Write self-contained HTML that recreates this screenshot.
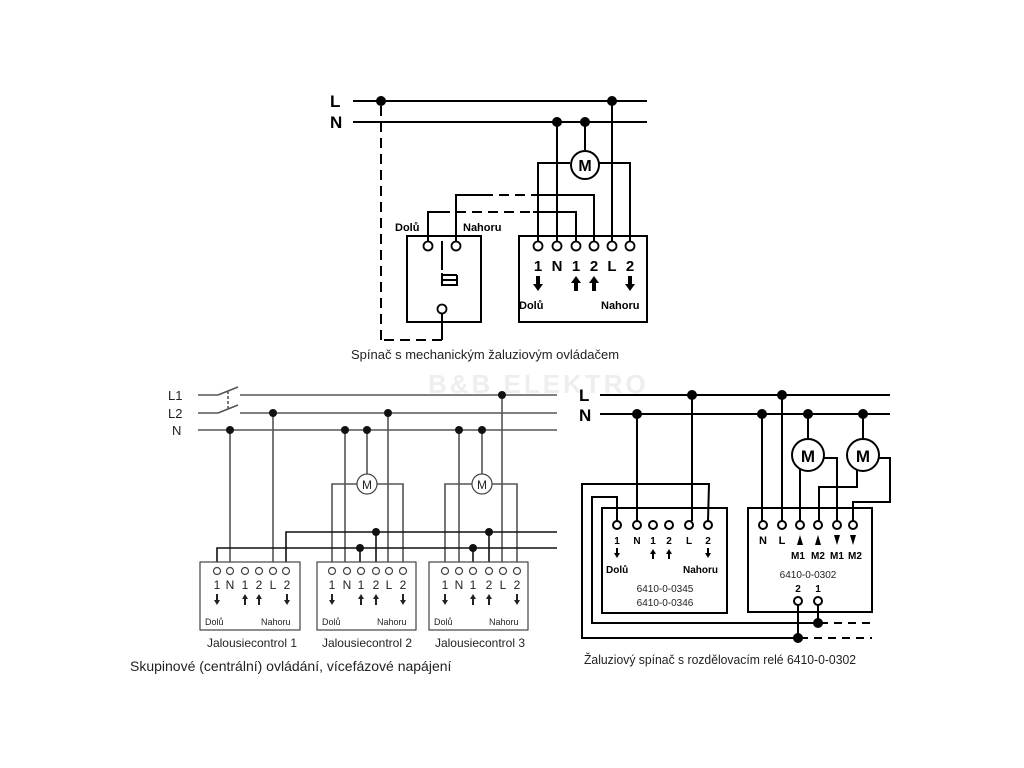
<!DOCTYPE html>
<html><head><meta charset="utf-8"><style>
html,body{margin:0;padding:0;background:#fff;}
svg{display:block;}
text{font-family:"Liberation Sans",sans-serif;}
</style></head><body>
<svg width="1024" height="768" viewBox="0 0 1024 768" xmlns="http://www.w3.org/2000/svg">
<rect width="1024" height="768" fill="#fff"/>
<!-- watermark -->
<text x="428" y="393" font-size="26" fill="#eee" font-weight="bold" letter-spacing="3">B&amp;B ELEKTRO</text>

<!-- ===== TOP DIAGRAM ===== -->
<g stroke="#000" stroke-width="2" fill="none">
<line x1="353" y1="101" x2="647" y2="101"/>
<line x1="353" y1="122" x2="647" y2="122"/>
<!-- motor -->
<line x1="585" y1="122" x2="585" y2="150"/>
<polyline points="538,242 538,163 570,163"/>
<polyline points="599,163 630,163 630,242"/>
<line x1="557" y1="122" x2="557" y2="242"/>
<line x1="612" y1="101" x2="612" y2="242"/>
<polyline points="456,242 456,195 483,195"/>
<line x1="483" y1="195" x2="540" y2="195" stroke-dasharray="10,6"/>
<polyline points="540,195 594,195 594,242"/>
<polyline points="428,242 428,212 440,212"/>
<line x1="440" y1="212" x2="533" y2="212" stroke-dasharray="10,6"/>
<polyline points="533,212 576,212 576,242"/>
<!-- boxes -->
<rect x="519" y="236" width="128" height="86"/>
<rect x="407" y="236" width="74" height="86"/>
<!-- switch -->
<line x1="442" y1="241" x2="442" y2="270"/>
<path d="M442 273 V286 M442 275 H457 M442 280 H457 M442 285 H457 M457 275 V286"/>
<line x1="442" y1="313" x2="442" y2="340"/>
<line x1="442" y1="340" x2="381" y2="340" stroke-dasharray="10,6"/>
<line x1="381" y1="340" x2="381" y2="101" stroke-dasharray="10,6"/>
</g>
<circle cx="585" cy="165" r="14" fill="#fff" stroke="#000" stroke-width="2"/>
<text x="585" y="171" font-size="16" font-weight="bold" text-anchor="middle">M</text>
<g fill="#000">
<circle cx="381" cy="101" r="5"/><circle cx="612" cy="101" r="5"/>
<circle cx="557" cy="122" r="5"/><circle cx="585" cy="122" r="5"/>
</g>
<g fill="#fff" stroke="#000" stroke-width="1.8">
<circle cx="538" cy="246" r="4.5"/><circle cx="557" cy="246" r="4.5"/><circle cx="576" cy="246" r="4.5"/>
<circle cx="594" cy="246" r="4.5"/><circle cx="612" cy="246" r="4.5"/><circle cx="630" cy="246" r="4.5"/>
<circle cx="428" cy="246" r="4.5"/><circle cx="456" cy="246" r="4.5"/><circle cx="442" cy="309" r="4.5"/>
</g>
<g font-weight="bold" fill="#000">
<text x="330" y="107" font-size="17">L</text>
<text x="330" y="128" font-size="17">N</text>
<g font-size="15" text-anchor="middle">
<text x="538" y="271">1</text><text x="557" y="271">N</text><text x="576" y="271">1</text>
<text x="594" y="271">2</text><text x="612" y="271">L</text><text x="630" y="271">2</text>
</g>
<text x="519" y="309" font-size="11">Dolů</text>
<text x="601" y="309" font-size="11">Nahoru</text>
<text x="395" y="231" font-size="11">Dolů</text>
<text x="463" y="231" font-size="11">Nahoru</text>
</g>
<g fill="#000">
<path d="M536 276 h4 v8 h3 l-5 7 l-5 -7 h3z"/>
<path d="M574 291 h4 v-8 h3 l-5 -7 l-5 7 h3z"/>
<path d="M592 291 h4 v-8 h3 l-5 -7 l-5 7 h3z"/>
<path d="M628 276 h4 v8 h3 l-5 7 l-5 -7 h3z"/>
</g>
<text x="351" y="359" font-size="13" fill="#222">Spínač s mechanickým žaluziovým ovládačem</text>

<!-- ===== BOTTOM LEFT ===== -->
<g stroke="#555" stroke-width="1.6" fill="none">
<line x1="198" y1="395" x2="218" y2="395"/>
<line x1="240" y1="395" x2="557" y2="395"/>
<line x1="198" y1="413" x2="218" y2="413"/>
<line x1="240" y1="413" x2="557" y2="413"/>
<line x1="198" y1="430" x2="557" y2="430"/>
<line x1="218" y1="395" x2="238" y2="387"/>
<line x1="218" y1="413" x2="238" y2="405"/>
<line x1="228" y1="391" x2="228" y2="409" stroke-dasharray="3,2"/>
<line x1="230" y1="430" x2="230" y2="567"/>
<line x1="273" y1="413" x2="273" y2="567"/>
<line x1="345" y1="430" x2="345" y2="567"/>
<line x1="367" y1="430" x2="367" y2="474"/>
<line x1="388" y1="413" x2="388" y2="567"/>
<polyline points="332,567 332,484 357,484"/>
<polyline points="377,484 403,484 403,567"/>
<line x1="459" y1="430" x2="459" y2="567"/>
<line x1="482" y1="430" x2="482" y2="474"/>
<line x1="502" y1="395" x2="502" y2="567"/>
<polyline points="445,567 445,484 472,484"/>
<polyline points="492,484 517,484 517,567"/>
</g>
<g stroke="#111" stroke-width="1.6" fill="none">
<polyline points="286,567 286,532 557,532"/>
<polyline points="217,567 217,548 557,548"/>
<line x1="376" y1="532" x2="376" y2="567"/>
<line x1="360" y1="548" x2="360" y2="567"/>
<line x1="489" y1="532" x2="489" y2="567"/>
<line x1="473" y1="548" x2="473" y2="567"/>
</g>
<g fill="#111">
<circle cx="502" cy="395" r="4"/><circle cx="273" cy="413" r="4"/><circle cx="388" cy="413" r="4"/>
<circle cx="230" cy="430" r="4"/><circle cx="345" cy="430" r="4"/><circle cx="367" cy="430" r="4"/>
<circle cx="459" cy="430" r="4"/><circle cx="482" cy="430" r="4"/>
<circle cx="376" cy="532" r="4"/><circle cx="360" cy="548" r="4"/>
<circle cx="489" cy="532" r="4"/><circle cx="473" cy="548" r="4"/>
</g>
<g fill="#fff" stroke="#444" stroke-width="1.2">
<circle cx="367" cy="484" r="10"/><circle cx="482" cy="484" r="10"/>
<rect x="200" y="562" width="100" height="68"/>
<rect x="317" y="562" width="99" height="68"/>
<rect x="429" y="562" width="99" height="68"/>
<g>
<circle cx="217" cy="571" r="3.5"/><circle cx="230" cy="571" r="3.5"/><circle cx="245" cy="571" r="3.5"/>
<circle cx="259" cy="571" r="3.5"/><circle cx="273" cy="571" r="3.5"/><circle cx="286" cy="571" r="3.5"/>
<circle cx="332" cy="571" r="3.5"/><circle cx="347" cy="571" r="3.5"/><circle cx="361" cy="571" r="3.5"/>
<circle cx="376" cy="571" r="3.5"/><circle cx="389" cy="571" r="3.5"/><circle cx="403" cy="571" r="3.5"/>
<circle cx="445" cy="571" r="3.5"/><circle cx="459" cy="571" r="3.5"/><circle cx="473" cy="571" r="3.5"/>
<circle cx="489" cy="571" r="3.5"/><circle cx="503" cy="571" r="3.5"/><circle cx="517" cy="571" r="3.5"/>
</g>
</g>
<g font-size="12" fill="#222" text-anchor="middle">
<text x="367" y="489">M</text><text x="482" y="489">M</text>
</g>
<g font-size="13" fill="#222">
<text x="168" y="400">L1</text><text x="168" y="418">L2</text><text x="172" y="435">N</text>
</g>
<g id="lbl1" font-size="12" fill="#222" text-anchor="middle">
<text x="217" y="589">1</text><text x="230" y="589">N</text><text x="245" y="589">1</text>
<text x="259" y="589">2</text><text x="273" y="589">L</text><text x="287" y="589">2</text>
<text x="332" y="589">1</text><text x="347" y="589">N</text><text x="361" y="589">1</text>
<text x="376" y="589">2</text><text x="389" y="589">L</text><text x="403" y="589">2</text>
<text x="445" y="589">1</text><text x="459" y="589">N</text><text x="473" y="589">1</text>
<text x="489" y="589">2</text><text x="503" y="589">L</text><text x="517" y="589">2</text>
</g>
<g fill="#222">
<path d="M216 594 h2 v6 h2 l-3 5 l-3 -5 h2z"/><path d="M244 605 h2 v-6 h2 l-3 -5 l-3 5 h2z"/><path d="M258 605 h2 v-6 h2 l-3 -5 l-3 5 h2z"/><path d="M286 594 h2 v6 h2 l-3 5 l-3 -5 h2z"/>
<path d="M331 594 h2 v6 h2 l-3 5 l-3 -5 h2z"/><path d="M360 605 h2 v-6 h2 l-3 -5 l-3 5 h2z"/><path d="M375 605 h2 v-6 h2 l-3 -5 l-3 5 h2z"/><path d="M402 594 h2 v6 h2 l-3 5 l-3 -5 h2z"/>
<path d="M444 594 h2 v6 h2 l-3 5 l-3 -5 h2z"/><path d="M472 605 h2 v-6 h2 l-3 -5 l-3 5 h2z"/><path d="M488 605 h2 v-6 h2 l-3 -5 l-3 5 h2z"/><path d="M516 594 h2 v6 h2 l-3 5 l-3 -5 h2z"/>
</g>
<g font-size="9" fill="#222">
<text x="205" y="625">Dolů</text><text x="261" y="625">Nahoru</text>
<text x="322" y="625">Dolů</text><text x="377" y="625">Nahoru</text>
<text x="434" y="625">Dolů</text><text x="489" y="625">Nahoru</text>
</g>
<g font-size="12" fill="#222" text-anchor="middle">
<text x="252" y="647">Jalousiecontrol 1</text>
<text x="367" y="647">Jalousiecontrol 2</text>
<text x="480" y="647">Jalousiecontrol 3</text>
</g>
<text x="130" y="671" font-size="14" fill="#222">Skupinové (centrální) ovládání, vícefázové napájení</text>

<!-- ===== BOTTOM RIGHT ===== -->
<g stroke="#000" stroke-width="2" fill="none">
<line x1="600" y1="395" x2="890" y2="395"/>
<line x1="600" y1="414" x2="890" y2="414"/>
<line x1="637" y1="414" x2="637" y2="521"/>
<line x1="692" y1="395" x2="692" y2="521"/>
<line x1="762" y1="414" x2="762" y2="521"/>
<line x1="782" y1="395" x2="782" y2="521"/>
<line x1="808" y1="414" x2="808" y2="439"/>
<line x1="863" y1="414" x2="863" y2="439"/>
<polyline points="800,521 800,468"/>
<polyline points="823,458 837,458 837,521"/>
<polyline points="857,468 857,487 819,487 819,521"/>
<polyline points="879,458 890,458 890,502 853,502 853,521"/>
<polyline points="708,521 709,484 582,484 582,638 798,638"/>
<polyline points="617,521 617,497 592,497 592,623 818,623"/>
<line x1="798" y1="605" x2="798" y2="638"/>
<line x1="818" y1="605" x2="818" y2="623"/>
<line x1="820" y1="623" x2="872" y2="623" stroke-dasharray="8,6"/>
<line x1="800" y1="638" x2="872" y2="638" stroke-dasharray="8,6"/>
<rect x="602" y="508" width="125" height="105" fill="none"/>
<rect x="748" y="508" width="124" height="104" fill="none"/>
</g>
<g fill="#fff" stroke="#000" stroke-width="2">
<circle cx="808" cy="455" r="16"/><circle cx="863" cy="455" r="16"/>
<circle cx="617" cy="525" r="4"/><circle cx="637" cy="525" r="4"/><circle cx="653" cy="525" r="4"/>
<circle cx="669" cy="525" r="4"/><circle cx="689" cy="525" r="4"/><circle cx="708" cy="525" r="4"/>
<circle cx="763" cy="525" r="4"/><circle cx="782" cy="525" r="4"/><circle cx="800" cy="525" r="4"/>
<circle cx="818" cy="525" r="4"/><circle cx="837" cy="525" r="4"/><circle cx="853" cy="525" r="4"/>
<circle cx="798" cy="601" r="4"/><circle cx="818" cy="601" r="4"/>
</g>
<g fill="#000">
<circle cx="692" cy="395" r="5"/><circle cx="782" cy="395" r="5"/>
<circle cx="637" cy="414" r="5"/><circle cx="762" cy="414" r="5"/><circle cx="808" cy="414" r="5"/><circle cx="863" cy="414" r="5"/>
<circle cx="818" cy="623" r="5"/><circle cx="798" cy="638" r="5"/>
</g>
<g font-weight="bold" fill="#000">
<text x="579" y="401" font-size="17">L</text>
<text x="579" y="421" font-size="17">N</text>
<text x="808" y="462" font-size="17" text-anchor="middle">M</text>
<text x="863" y="462" font-size="17" text-anchor="middle">M</text>
<g font-size="10" text-anchor="middle">
<text x="617" y="544">1</text><text x="637" y="544">N</text><text x="653" y="544">1</text>
<text x="669" y="544">2</text><text x="689" y="544">L</text><text x="708" y="544">2</text>
<text x="763" y="544" font-size="11">N</text><text x="782" y="544" font-size="11">L</text>
<text x="798" y="559">M1</text><text x="818" y="559">M2</text><text x="837" y="559">M1</text><text x="855" y="559">M2</text>
<text x="798" y="592">2</text><text x="818" y="592">1</text>
</g>
<text x="606" y="573" font-size="10">Dolů</text>
<text x="683" y="573" font-size="10">Nahoru</text>
</g>
<g fill="#000">
<path d="M616 548 h2 v5 h2 l-3 5 l-3 -5 h2z"/><path d="M652 559 h2 v-5 h2 l-3 -5 l-3 5 h2z"/>
<path d="M668 559 h2 v-5 h2 l-3 -5 l-3 5 h2z"/><path d="M707 548 h2 v5 h2 l-3 5 l-3 -5 h2z"/>
<path d="M797 545 l3 -10 l3 10z"/><path d="M815 545 l3 -10 l3 10z"/>
<path d="M834 535 h6 l-3 10z"/><path d="M850 535 h6 l-3 10z"/>
</g>
<g font-size="10" fill="#222" text-anchor="middle">
<text x="808" y="578">6410-0-0302</text>
<text x="665" y="592">6410-0-0345</text>
<text x="665" y="606">6410-0-0346</text>
</g>
<text x="584" y="664" font-size="13" fill="#222" textLength="272" lengthAdjust="spacingAndGlyphs">Žaluziový spínač s rozdělovacím relé 6410-0-0302</text>
</svg>
</body></html>
